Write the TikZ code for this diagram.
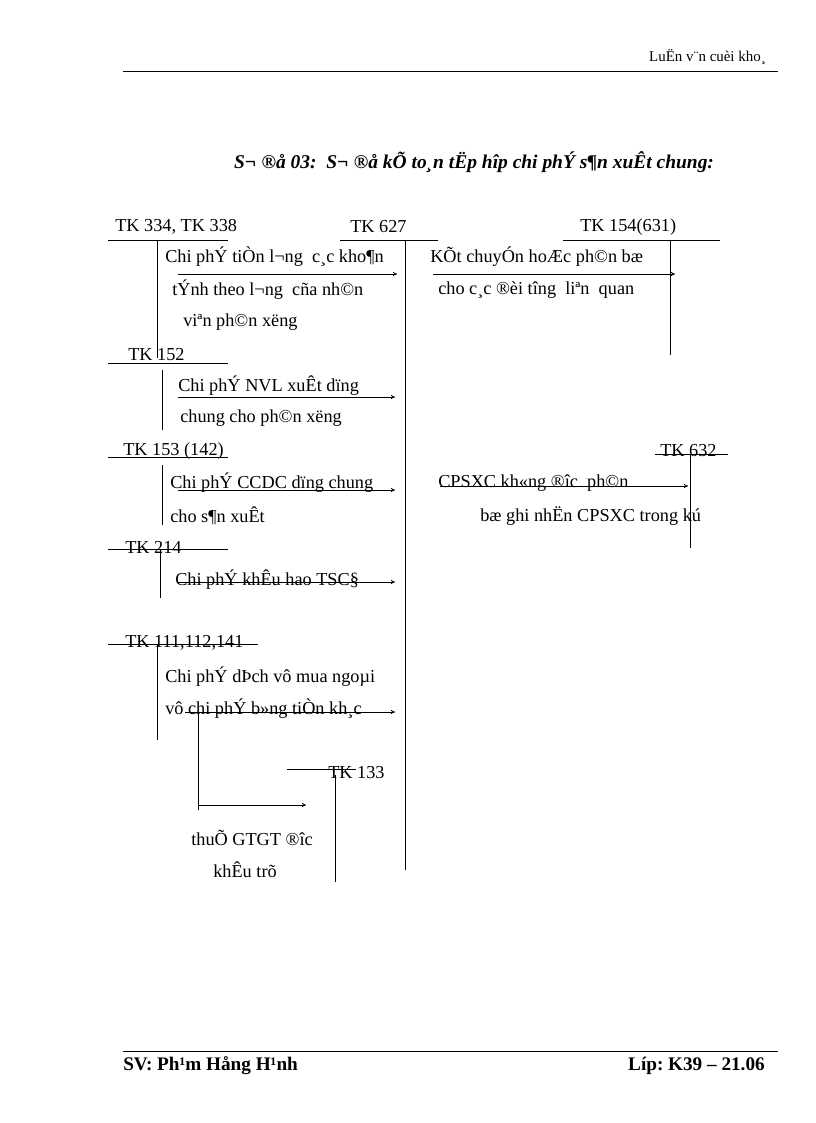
\documentclass[tikz,border=0pt]{standalone}
\usepackage{fontspec}
\setmainfont{Liberation Serif}
\usetikzlibrary{arrows.meta}
\begin{document}
\begin{tikzpicture}[x=0.75pt,y=-0.75pt,
  txt/.style={inner sep=0pt,font=\fontsize{13.7}{15}\selectfont},
  ln/.style={line width=0.6pt},
  arr/.style={line width=0.6pt,-{To[length=3pt,width=3pt]}}]
\useasboundingbox (0,0) rectangle (816,1123);
% header
\node[txt,anchor=east,font=\fontsize{11.2}{13}\selectfont] (hd) at (766,57) {LuËn v¨n cuèi kho¸};
\draw[line width=0.5pt] (123,71) coordinate (h1) -- (778,71) coordinate (h2);
\node[txt,font=\bfseries\itshape\fontsize{14.6}{16}\selectfont] (title) at (474,162) {S¬ ®å 03:\ \ S¬ ®å kÕ to¸n tËp hîp chi phÝ s¶n xuÊt chung:};
% TK 334
\node[txt,anchor=west] (t334) at (115,227) {TK 334, TK 338};
\draw[ln] (108,240) -- (228,240);
\draw[ln] (157,240) -- (157,358);
\node[txt,anchor=west] (t627) at (350,227) {TK 627};
\draw[ln] (340,240) -- (438,240);
\draw[ln] (405,240) coordinate (v627a) -- (405,870) coordinate (v627b);
\node[txt,anchor=west] (t154) at (580,227) {TK 154(631)};
\draw[ln] (563,240) -- (720,240);
\draw[ln] (670,240) coordinate (v154a) -- (670,355) coordinate (v154b);
\coordinate (a1s) at (178,274); \coordinate (a1e) at (397,274);
\draw[arr] (a1s) -- (a1e);
\node[txt,anchor=west] (l1a) at (165,257) {Chi phÝ tiÒn l¬ng\ \ c¸c kho¶n};
\node[txt,anchor=west] (l1b) at (172,290) {tÝnh theo l¬ng\ \ cña nh©n};
\node[txt,anchor=west] (l1c) at (183,322) {viªn ph©n xëng};
\coordinate (a2s) at (433,274); \coordinate (a2e) at (675,274);
\draw[arr] (a2s) -- (a2e);
\node[txt,anchor=west] (l2a) at (430,257) {KÕt chuyÓn hoÆc ph©n bæ};
\node[txt,anchor=west] (l2b) at (438,290) {cho c¸c ®èi tîng\ \ liªn\ \ quan};
% TK 152
\node[txt,anchor=west] (t152) at (128,355) {TK 152};
\draw[ln] (108,363) -- (228,363);
\draw[ln] (162,370) -- (162,430);
\coordinate (a3s) at (178,397); \coordinate (a3e) at (395,397);
\draw[arr] (a3s) -- (a3e);
\node[txt,anchor=west] (l3a) at (178,386) {Chi phÝ NVL xuÊt\ dïng};
\node[txt,anchor=west] (l3b) at (180,418) {chung\ cho ph©n xëng};
% TK 153
\node[txt,anchor=west] (t153) at (123,451) {TK 153 (142)};
\draw[ln] (108,457) -- (228,457);
\draw[ln] (162,465) -- (162,525);
\coordinate (a4s) at (178,490); \coordinate (a4e) at (395,490);
\draw[arr] (a4s) -- (a4e);
\node[txt,anchor=west] (l4a) at (170,483) {Chi phÝ CCDC dïng chung};
\node[txt,anchor=west] (l4b) at (170,516) {cho s¶n xuÊt};
% TK 632
\node[txt,anchor=west] (t632) at (660,451) {TK 632};
\draw[ln] (655,454) -- (728,454);
\draw[ln] (690,455) coordinate (v632a) -- (690,548) coordinate (v632b);
\coordinate (a5s) at (440,486); \coordinate (a5e) at (688,486);
\draw[arr] (a5s) -- (a5e);
\node[txt,anchor=west] (l5a) at (438,483) {CPSXC kh«ng ®îc\ \ ph©n};
\node[txt,anchor=west] (l5b) at (480,516) {bæ ghi nhËn\ CPSXC trong kú};
% TK 214
\node[txt,anchor=west] (t214) at (125,547) {TK 214};
\draw[ln] (108,549) -- (228,549);
\draw[ln] (160,550) -- (160,598);
\coordinate (a6s) at (178,582); \coordinate (a6e) at (395,582);
\draw[arr] (a6s) -- (a6e);
\node[txt,anchor=west] (l6a) at (175,580) {Chi phÝ khÊu hao TSC§};
% TK 111
\node[txt,anchor=west] (t111) at (125,643) {TK 111,112,141};
\draw[ln] (108,644) -- (258,644);
\draw[ln] (157,645) -- (157,740);
\node[txt,anchor=west] (l7a) at (165,677) {Chi phÝ dÞch vô mua ngoµi};
\node[txt,anchor=west] (l7b) at (165,709) {vô chi phÝ b»ng tiÒn kh¸c};
\coordinate (a7s) at (185,712); \coordinate (a7e) at (395,712);
\draw[arr] (a7s) -- (a7e);
\coordinate (b1) at (198,712); \coordinate (b2) at (198,810);
\coordinate (b3) at (198,805); \coordinate (b4) at (306,805);
\draw[ln] (b1) -- (b2);
\draw[arr] (b3) -- (b4);
% TK 133
\node[txt,anchor=west] (t133) at (328,773) {TK 133};
\draw[ln] (287,769) -- (356,769);
\draw[ln] (335,775) -- (335,882);
\node[txt] (l8a) at (252,838) {thuÕ GTGT ®îc};
\node[txt] (l8b) at (245,870) {khÊu trõ};
% footer
\draw[line width=0.5pt] (123,1051) -- (778,1051);
\node[txt,anchor=west,font=\bfseries\fontsize{14.4}{16}\selectfont] (sv) at (123,1066) {SV: Ph¹m Hång H¹nh};
\node[txt,anchor=east,font=\bfseries\fontsize{14.4}{16}\selectfont] (lop) at (765,1066) {Líp:\ K39 – 21.06};
\end{tikzpicture}
\end{document}
